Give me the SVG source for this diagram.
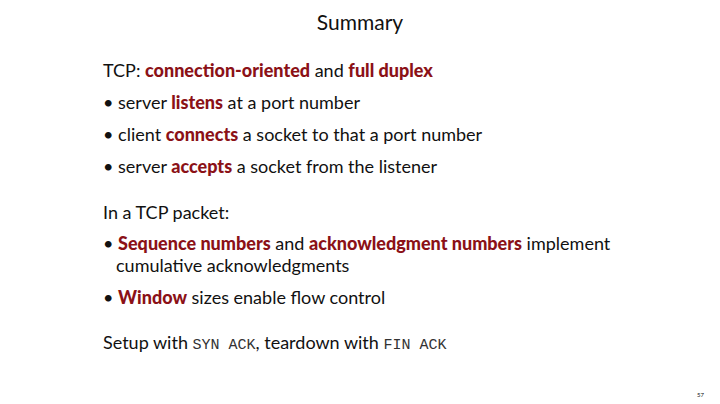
<svg xmlns="http://www.w3.org/2000/svg" width="720" height="404" viewBox="0 0 720 404">
<style>
text{font-family:Lato,"Open Sans",sans-serif;fill:#111;font-size:18px}
.b{font-weight:900;fill:#8b1117}
.m{font-family:"Liberation Mono",monospace;font-size:15px;fill:#333}
</style>
<rect width="720" height="404" fill="#fff"/>
<text x="360" y="30" text-anchor="middle" style="font-size:21px">Summary</text>
<text x="103" y="77">TCP: <tspan class="b">connection-oriented</tspan> and <tspan class="b">full duplex</tspan></text>
<text x="103" y="109">• server <tspan class="b">listens</tspan> at a port number</text>
<text x="103" y="141">• client <tspan class="b">connects</tspan> a socket to that a port number</text>
<text x="103" y="173">• server <tspan class="b">accepts</tspan> a socket from the listener</text>
<text x="103" y="219">In a TCP packet:</text>
<text x="103" y="250">• <tspan class="b">Sequence numbers</tspan> and <tspan class="b">acknowledgment numbers</tspan> implement</text>
<text x="116" y="272">cumulative acknowledgments</text>
<text x="103" y="304">• <tspan class="b">Window</tspan> sizes enable flow control</text>
<text x="103" y="349">Setup with <tspan class="m">SYN ACK</tspan>, teardown with <tspan class="m">FIN ACK</tspan></text>
<text x="704" y="397" text-anchor="end" style="font-size:6px">57</text>
</svg>
